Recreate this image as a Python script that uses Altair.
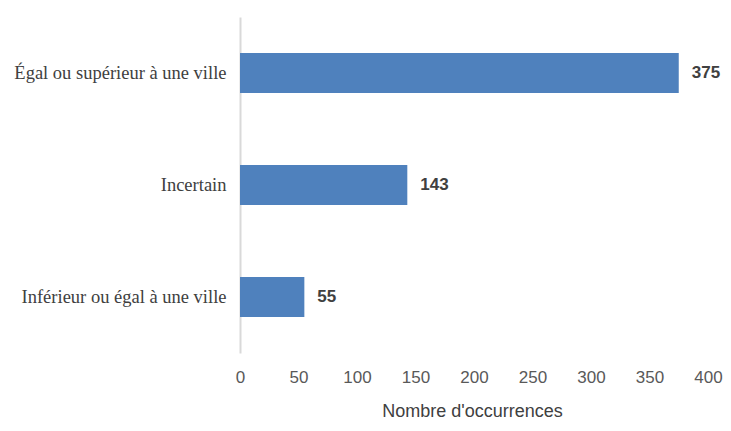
import altair as alt
import pandas as pd

categories = ["Égal ou supérieur à une ville", "Incertain", "Inférieur ou égal à une ville"]
values = [375, 143, 55]
x_ticks = [0, 50, 100, 150, 200, 250, 300, 350, 400]

df = pd.DataFrame({"cat": categories, "val": values})

y_enc = alt.Y("cat:N", sort=categories, title=None,
              scale=alt.Scale(paddingInner=0.643, paddingOuter=0.3215),
              axis=alt.Axis(labelFont="Liberation Serif", labelFontSize=18.5,
                            labelColor="#404040", labelPadding=14, ticks=False,
                            domainColor="#D9D9D9", domainWidth=2, labelLimit=300))
x_enc = alt.X("val:Q", title="Nombre d'occurrences",
              scale=alt.Scale(domain=[0, 400], nice=False),
              axis=alt.Axis(values=x_ticks, grid=False, ticks=False, domain=False,
                            labelFont="Liberation Sans", labelFontSize=17,
                            labelColor="#595959", labelPadding=16,
                            labelFlush=False,
                            titleFont="Liberation Sans", titleFontSize=18,
                            titleFontWeight="normal", titleColor="#404040",
                            titlePadding=17, titleX=232))

bars = alt.Chart(df).mark_bar(color="#4F81BD").encode(x=x_enc, y=y_enc)
labels = alt.Chart(df).mark_text(align="left", baseline="middle", dx=13,
                                 font="Liberation Sans", fontSize=17,
                                 fontWeight="bold", color="#404040").encode(
    x="val:Q", y=alt.Y("cat:N", sort=categories), text="val:Q")

chart = (bars + labels).properties(
    width=468, height=336,
    autosize=alt.AutoSizeParams(type="none"),
    padding={"left": 232, "top": 9, "right": 15, "bottom": 70},
).configure(background="white").configure_view(stroke=None)

chart.save("out.html", embed_options={"renderer": "svg", "actions": False})
